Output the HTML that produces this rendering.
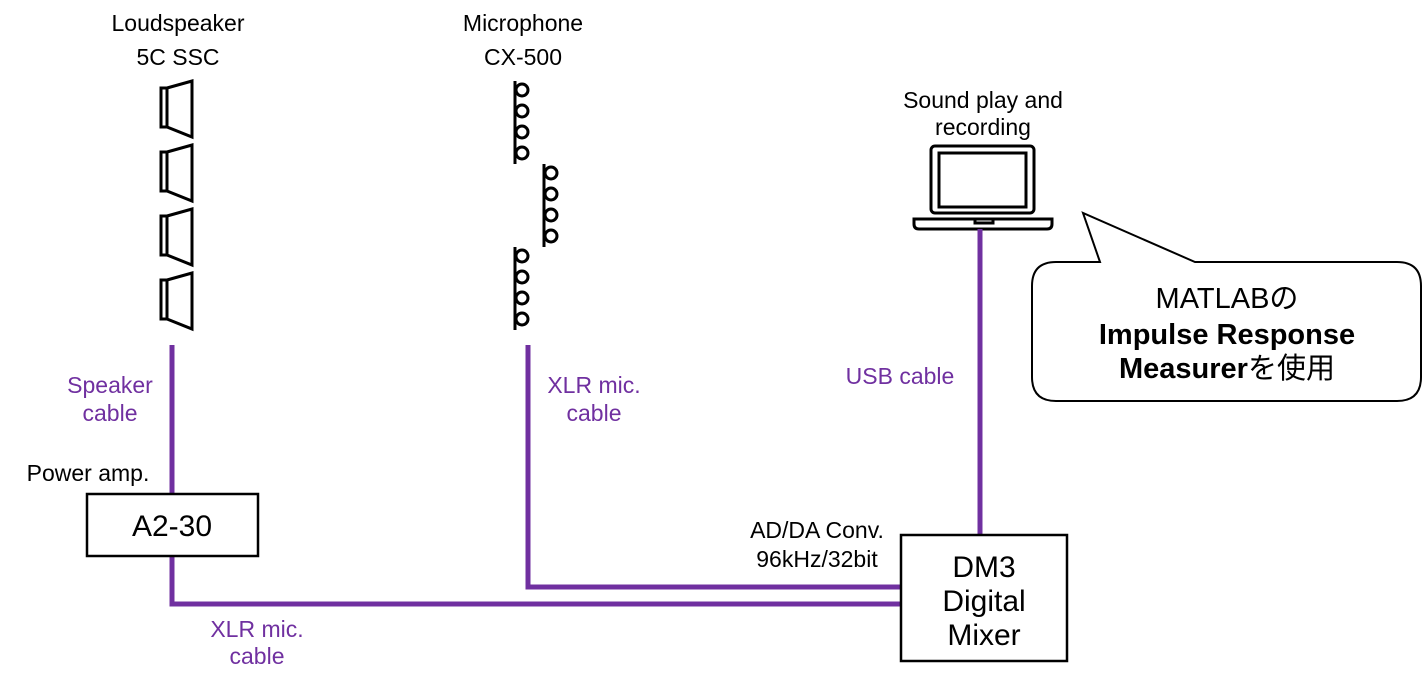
<!DOCTYPE html>
<html><head><meta charset="utf-8"><style>
html,body{margin:0;padding:0;background:#fff;width:1423px;height:683px;overflow:hidden}
text{font-family:"Liberation Sans","Noto Sans CJK JP",sans-serif}
</style></head><body>
<svg width="1423" height="683" xmlns="http://www.w3.org/2000/svg">
<defs>
<g id="spk" fill="none" stroke="#000" stroke-width="3">
<rect x="161" y="13" width="6" height="39"/>
<path d="M167,13 L192,6 L192,62 L167,52 Z"/>
</g>
<g id="mic" fill="none" stroke="#000" stroke-width="3">
<line x1="0" y1="0" x2="0" y2="83"/>
<circle cx="7" cy="9" r="6"/><circle cx="7" cy="30" r="6"/><circle cx="7" cy="51" r="6"/><circle cx="7" cy="72" r="6"/>
</g>
</defs>
<g font-size="23" fill="#000" text-anchor="middle">
<text x="178" y="31">Loudspeaker</text><text x="178" y="65">5C SSC</text>
<text x="523" y="31">Microphone</text><text x="523" y="65">CX-500</text>
<text x="983" y="108">Sound play and</text><text x="983" y="135">recording</text>
<text x="88" y="481">Power amp.</text>
<text x="817" y="538">AD/DA Conv.</text><text x="817" y="567">96kHz/32bit</text>
</g>
<g font-size="23" fill="#7030a0" text-anchor="middle">
<text x="110" y="393">Speaker</text><text x="110" y="421">cable</text>
<text x="594" y="393">XLR mic.</text><text x="594" y="421">cable</text>
<text x="900" y="384">USB cable</text>
<text x="257" y="637">XLR mic.</text><text x="257" y="664">cable</text>
</g>
<use href="#spk" y="75"/><use href="#spk" y="139"/><use href="#spk" y="203"/><use href="#spk" y="267"/>
<use href="#mic" transform="translate(515,81)"/>
<use href="#mic" transform="translate(544,164)"/>
<use href="#mic" transform="translate(515,247)"/>
<g fill="none" stroke="#000" stroke-width="3">
<rect x="931" y="146" width="103" height="67" rx="4"/>
<rect x="939" y="153" width="87" height="54"/>
<path d="M914,219 H1052 V224 Q1052,229 1047,229 H919 Q914,229 914,224 Z"/>
<path d="M975,219 V223 H993 V219"/>
</g>
<g stroke="#7030a0" stroke-width="5" fill="none">
<path d="M172,345 V494"/>
<path d="M172,556 V604 H901"/>
<path d="M528,345 V587 H901"/>
<path d="M980,229 V535"/>
</g>
<rect x="87" y="494" width="171" height="62" fill="#fff" stroke="#000" stroke-width="2.5"/>
<text x="172" y="536" font-size="30" text-anchor="middle">A2-30</text>
<rect x="901" y="535" width="166" height="126" fill="#fff" stroke="#000" stroke-width="2.5"/>
<g font-size="30" text-anchor="middle"><text x="984" y="577">DM3</text><text x="984" y="611">Digital</text><text x="984" y="645">Mixer</text></g>
<path d="M1100,262 L1083,213 L1195,262 H1397 Q1421,262 1421,286 V377 Q1421,401 1397,401 H1056 Q1032,401 1032,377 V286 Q1032,262 1056,262 Z" fill="#fff" stroke="#000" stroke-width="2"/>
<g font-size="29" text-anchor="middle">
<text x="1227" y="308">MATLABの</text>
<text x="1227" y="344" font-weight="bold">Impulse Response</text>
<text x="1227" y="378"><tspan font-weight="bold">Measurer</tspan>を使用</text>
</g>
</svg>
</body></html>
